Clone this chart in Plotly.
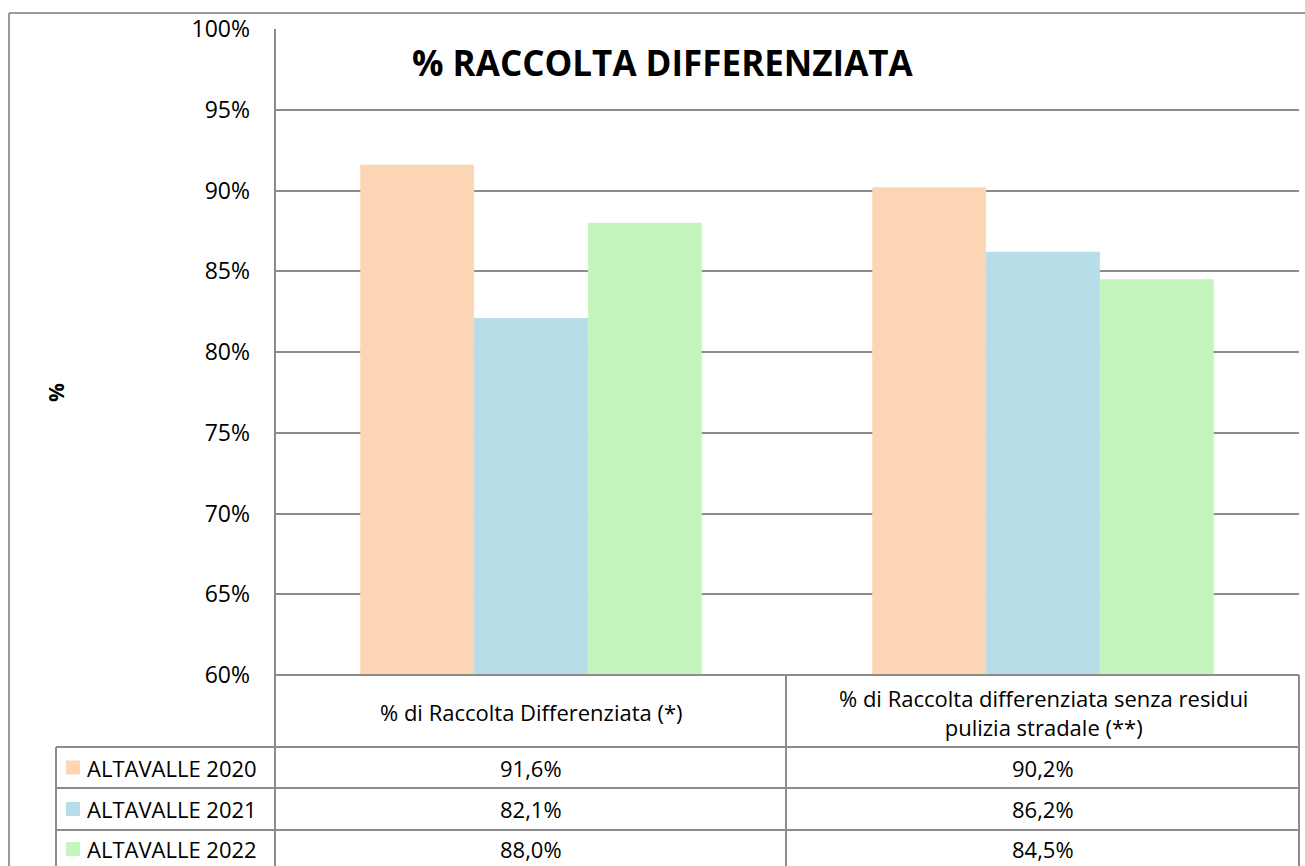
import plotly.graph_objects as go

categories = ["% di Raccolta Differenziata (*)",
              "% di Raccolta differenziata senza residui<br>pulizia stradale (**)"]
series_names = ["ALTAVALLE 2020", "ALTAVALLE 2021", "ALTAVALLE 2022"]
values_2020 = [0.916, 0.902]
values_2021 = [0.821, 0.862]
values_2022 = [0.880, 0.845]
series_values = [values_2020, values_2021, values_2022]
colors = ["#FCD5B5", "#B7DEE8", "#C4F5BD"]
y_ticks = [0.60, 0.65, 0.70, 0.75, 0.80, 0.85, 0.90, 0.95, 1.00]

W, H = 1305, 866
# plot area in page pixels
L, R, T, B = 275, 1299, 29, 675
FONT = "Open Sans"
GRID = "#8C8C8C"


def px(x):
    return (x - L) / (R - L)


def py(y):
    return (B - y) / (B - T)


fig = go.Figure()
for name, vals, col in zip(series_names, series_values, colors):
    fig.add_trace(go.Bar(x=categories, y=vals, name=name, marker_color=col,
                         marker_line_width=0, hoverinfo="y"))

shapes = []


def line(x0, y0, x1, y1, color=GRID, w=2):
    shapes.append(dict(type="line", xref="paper", yref="paper",
                       x0=px(x0), y0=py(y0), x1=px(x1), y1=py(y1),
                       line=dict(color=color, width=w), layer="above"))


# outer chart border
line(9, 13, 1310, 13, color="#9A9A9A")
line(9, 13, 9, 870, color="#9A9A9A")
# table grid
row_lines = [747, 788, 830]
for yy in row_lines:
    line(56, yy, R, yy)
line(L, B, R, B)
line(L, T, L, 870)
line(56, 747, 56, 870)
line(786, B, 786, 870)
line(R, B, R, 870)

annotations = []
row_centers = [767.5, 809, 849]
TF = 22
for i, (name, vals, col) in enumerate(zip(series_names, series_values, colors)):
    yc = row_centers[i]
    shapes.append(dict(type="rect", xref="paper", yref="paper",
                       x0=px(66), x1=px(80), y0=py(yc - 7), y1=py(yc + 7),
                       fillcolor=col, line=dict(width=0)))
    annotations.append(dict(text=name, xref="paper", yref="paper",
                            x=px(85), y=py(yc), xanchor="left", yanchor="middle",
                            showarrow=False, font=dict(size=TF, color="#000000", family=FONT)))
    for cat, v in zip(categories, vals):
        annotations.append(dict(text=f"{v*100:.1f}%".replace(".", ","),
                                xref="x", yref="paper", x=cat, y=py(yc),
                                xanchor="center", yanchor="middle", showarrow=False,
                                font=dict(size=TF, color="#000000", family=FONT)))

for cat in categories:
    annotations.append(dict(text=cat, xref="x", yref="paper", x=cat, y=py(712),
                            xanchor="center", yanchor="middle", showarrow=False,
                            font=dict(size=TF, color="#000000", family=FONT)))

annotations.append(dict(text="<b>% RACCOLTA DIFFERENZIATA</b>", xref="paper", yref="paper",
                        x=px(663), y=py(62), xanchor="center", yanchor="middle",
                        showarrow=False, font=dict(size=35, color="#000000", family=FONT)))
annotations.append(dict(text="<b>%</b>", xref="paper", yref="paper",
                        x=px(56), y=py(393), xanchor="center", yanchor="middle",
                        textangle=-90, showarrow=False,
                        font=dict(size=21, color="#000000", family=FONT)))

fig.update_layout(
    width=W, height=H,
    margin=dict(l=L, r=W - R, t=T, b=H - B, pad=0),
    paper_bgcolor="white", plot_bgcolor="white",
    barmode="group", bargap=0.333, bargroupgap=0,
    showlegend=False,
    shapes=shapes, annotations=annotations,
    xaxis=dict(showticklabels=False, showgrid=False, zeroline=False,
               showline=False, ticks=""),
    yaxis=dict(range=[0.6, 1.0], tickvals=y_ticks, tickformat=".0%",
               showgrid=True, gridcolor=GRID, gridwidth=2, zeroline=False,
               showline=False, ticks="", ticklabelstandoff=24,
               tickfont=dict(size=23, color="#000000", family=FONT)),
)

fig.write_html(
    "out.html",
    config={"displayModeBar": False},
    post_script="document.body.style.margin='0';document.body.style.overflow='hidden';",
)
